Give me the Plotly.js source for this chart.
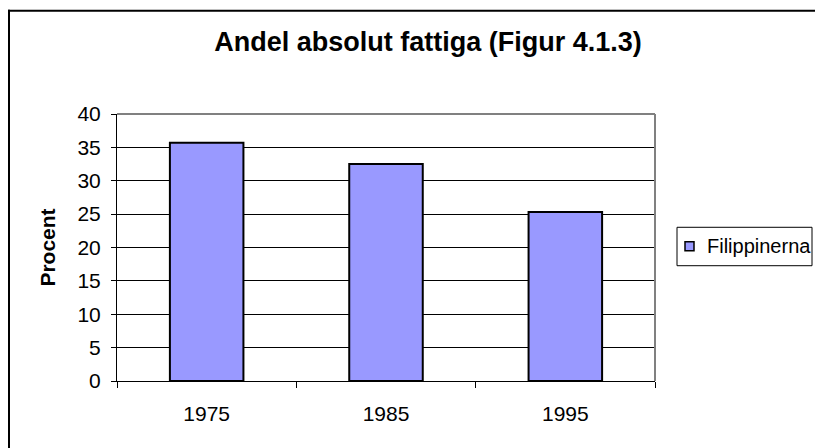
<!DOCTYPE html>
<html><head><meta charset="utf-8">
<script src="https://cdn.plot.ly/plotly-3.0.1.min.js"></script>
<style>html,body{margin:0;padding:0;background:#fff;overflow:hidden}#c{width:815px;height:448px}</style>
</head><body><div id="c"></div>
<script>
const years = ['1975', '1985', '1995'];
const seriesName = 'Filippinerna';
const values = [35.7, 32.5, 25.3];
const yTicks = [0, 5, 10, 15, 20, 25, 30, 35, 40];
const barColor = '#9999FF';

const L = 117, R = 160, T = 113.5, B = 67;
const W = 815, H = 448;
const pw = W - L - R, ph = H - T - B;
const px = x => (x - L) / pw;
const py = y => (H - B - y) / ph;

const font = "'Liberation Sans', Arial, sans-serif";
const data = [{
  type: 'bar', x: years, y: values, name: seriesName,
  marker: {color: barColor, line: {color: '#000', width: 2}},
  width: 0.41, showlegend: false
}];
const layout = {
  width: W, height: H,
  margin: {l: L, r: R, t: T, b: B, pad: 0},
  paper_bgcolor: '#fff', plot_bgcolor: '#fff',
  font: {family: font, color: '#000', size: 21},
  showlegend: false,
  title: {text: '<b>Andel absolut fattiga (Figur 4.1.3)</b>', font: {size: 27, family: font},
    x: px(428), xref: 'paper', xanchor: 'center', y: 1 - 42 / H, yref: 'container', yanchor: 'middle'},
  xaxis: {type: 'category', tickson: 'boundaries', ticks: 'outside', ticklen: 6, tickcolor: '#000',
    showline: true, linecolor: '#000', linewidth: 1, showgrid: false, ticklabelstandoff: 14,
    tickfont: {size: 21}},
  yaxis: {range: [0, 40], tickvals: yTicks, ticks: 'outside', ticklen: 5, tickcolor: '#000',
    showline: true, linecolor: '#000', linewidth: 1, showgrid: true, gridcolor: '#000', gridwidth: 1,
    zeroline: false, tickfont: {size: 21}, ticklabelstandoff: 6,
    title: {text: '<b>Procent</b>', font: {size: 21}, standoff: 16}},
  annotations: [
    {xref: 'paper', yref: 'paper', x: px(705), y: py(246), xanchor: 'left', yanchor: 'middle',
      text: seriesName, showarrow: false, font: {size: 20}, xshift: 0}
  ],
  shapes: [
    {type: 'line', xref: 'paper', yref: 'paper', x0: 0, x1: 1, y0: 1, y1: 1, line: {color: '#808080', width: 2}},
    {type: 'line', xref: 'paper', yref: 'paper', x0: 1, x1: 1, y0: 0, y1: 1, line: {color: '#808080', width: 2}},
    {type: 'line', xref: 'paper', yref: 'paper', x0: px(9), x1: px(9), y0: py(9), y1: py(460), line: {color: '#000', width: 2}},
    {type: 'line', xref: 'paper', yref: 'paper', x0: px(8), x1: px(830), y0: py(10), y1: py(10), line: {color: '#000', width: 2}},
    {type: 'rect', xref: 'paper', yref: 'paper', x0: px(677), x1: px(812), y0: py(265.5), y1: py(227),
      line: {color: '#000', width: 1}, fillcolor: '#fff'},
    {type: 'rect', xref: 'paper', yref: 'paper', x0: px(685), x1: px(694), y0: py(250.5), y1: py(241.5),
      line: {color: '#000', width: 1.5}, fillcolor: barColor}
  ]
};
Plotly.newPlot('c', data, layout, {displayModeBar: false, staticPlot: true});
</script></body></html>
